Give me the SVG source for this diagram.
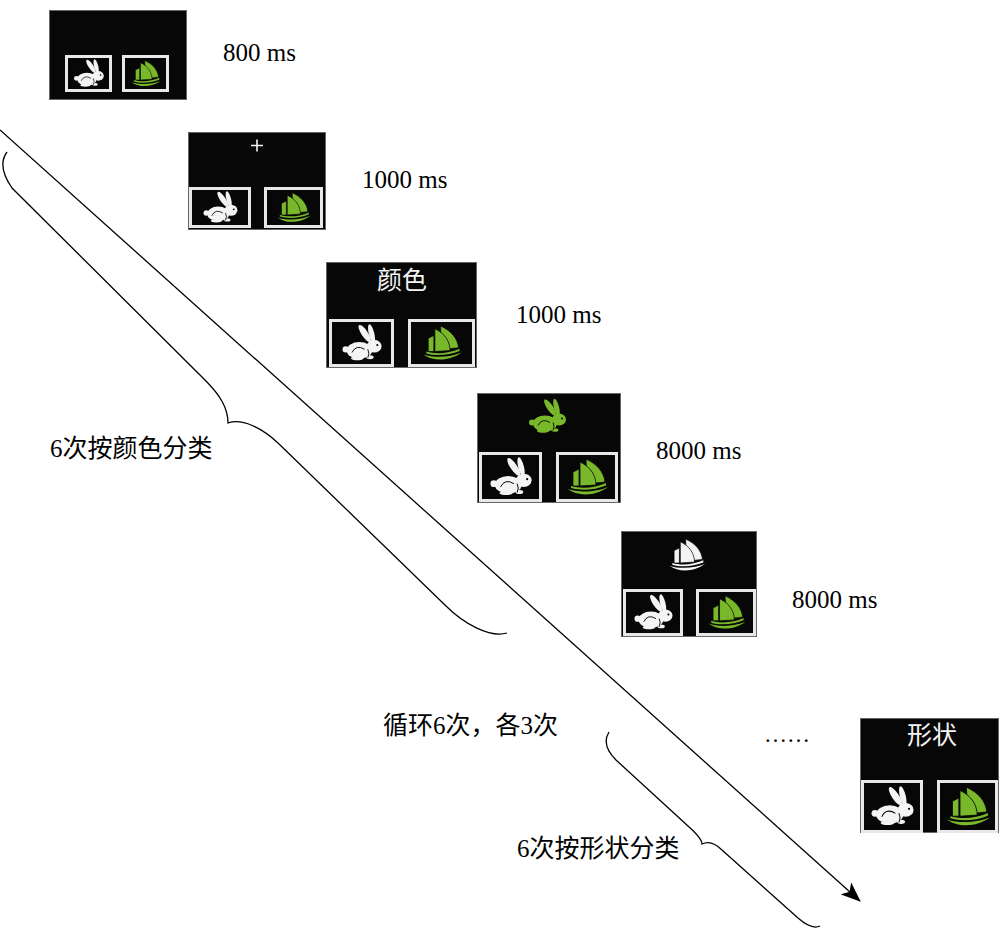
<svg xmlns="http://www.w3.org/2000/svg" xmlns:xlink="http://www.w3.org/1999/xlink" width="1000" height="931" viewBox="0 0 1000 931">
<style>
.scr{fill:#070707;stroke:#666;stroke-width:1}
.frm{fill:#070707;stroke:#e8e8e8;stroke-width:3}
.lbl{font-family:"Liberation Serif","Noto Sans CJK SC",serif;font-size:25px;fill:#000}
.wl{font-family:"Liberation Serif","Noto Sans CJK SC",serif;font-size:25px;fill:#f4f4f4}
.ln{fill:none;stroke:#000;stroke-width:1.3}
.wh{fill:#f4f4f4}
.gr{fill:#78b82a}
.dt{fill:none;stroke:#070707;stroke-width:0.9}
.cr{stroke:#f4f4f4;stroke-width:1.6}
</style>
<defs>
<symbol id="rabbit" viewBox="0 0 44 36">
<ellipse cx="25" cy="9" rx="3" ry="9.5" transform="rotate(-34 25 9)"/>
<ellipse cx="31.5" cy="9" rx="2.6" ry="9" transform="rotate(-14 31.5 9)"/>
<ellipse cx="20" cy="25" rx="12" ry="8"/>
<ellipse cx="34" cy="21" rx="7" ry="6"/>
<circle cx="7" cy="24" r="3"/>
<ellipse cx="30" cy="31.5" rx="3.5" ry="1.8"/>
<ellipse cx="18" cy="32.5" rx="6" ry="1.8"/>
<circle cx="37" cy="20" r="1" fill="#070707"/>
<path class="dt" d="M13,27 Q17,19 25,24"/>
<path class="dt" d="M28,24 Q30,28 28,32"/>
</symbol>
<symbol id="boat" viewBox="0 0 44 40">
<path d="M21,2 L22,27 L40,25 C39,15 32,7 21,2 Z" stroke="#070707" stroke-width="0.8"/>
<path d="M15,5 L15,29 L31,28 C31,19 26,10 15,5 Z" stroke="#070707" stroke-width="0.8"/>
<path d="M8,15 L8,29 L14,29 L14,12 Z" stroke="#070707" stroke-width="0.8"/>
<path d="M6,29 C16,32 30,31 41,26 L41,28.5 C30,33 16,34 6,31 Z"/>
<path d="M3,32 C12,39 30,40 43,30 C32,35 14,36 3,32 Z"/>
</symbol>
<marker id="ah" viewBox="0 0 20 16" refX="19" refY="8" markerWidth="20" markerHeight="16" markerUnits="userSpaceOnUse" orient="auto">
<path d="M0,0 L20,8 L0,16 L5,8 Z" fill="#000"/>
</marker>
</defs>
<rect width="1000" height="931" fill="#fff"/>

<g id="connectors">
<line class="ln" x1="0" y1="130" x2="860" y2="901" marker-end="url(#ah)"/>
</g>

<g id="braces">
<path class="ln" d="M7,152 C1,160 1,172 12,188 L205,380 C220,395 228,408 228,423 C242,418 262,428 278,443 L446,606 C464,624 490,638 507,633"/>
<path class="ln" d="M609,732 C604,740 606,750 616,760 L688,826 C697,834 702,840 702,844 C708,841 714,842 722,850 L798,918 C806,925 814,929 820,926"/>
</g>

<g id="screen1">
<rect class="scr" x="49.5" y="10.5" width="137" height="89"/>
<rect class="frm" x="66.5" y="56.5" width="44" height="34"/>
<rect class="frm" x="123.5" y="56.5" width="44" height="34"/>
<use href="#rabbit" class="wh" x="70" y="59" width="37" height="29"/>
<use href="#boat" class="gr" x="127" y="59" width="37" height="29"/>
<text class="lbl" x="223" y="61">800 ms</text>
</g>

<g id="screen2">
<rect class="scr" x="188.5" y="132.5" width="137" height="97"/>
<path class="cr" d="M251,145.5 H263 M257,139.5 V151.5"/>
<rect class="frm" x="190.5" y="188.5" width="59" height="38"/>
<rect class="frm" x="265.5" y="188.5" width="56" height="38"/>
<use href="#rabbit" class="wh" x="195" y="191" width="50" height="33"/>
<use href="#boat" class="gr" x="269" y="191" width="48" height="33"/>
<text class="lbl" x="362" y="188">1000 ms</text>
</g>

<g id="screen3">
<rect class="scr" x="326.5" y="262.5" width="150" height="105"/>
<text class="wl" x="402" y="289" text-anchor="middle">颜色</text>
<rect class="frm" x="330.5" y="320.5" width="62" height="45"/>
<rect class="frm" x="409.5" y="320.5" width="64" height="45"/>
<use href="#rabbit" class="wh" x="335" y="324" width="53" height="38"/>
<use href="#boat" class="gr" x="414" y="324" width="55" height="38"/>
<text class="lbl" x="516" y="323">1000 ms</text>
</g>

<g id="screen4">
<rect class="scr" x="477.5" y="393.5" width="143" height="109"/>
<use href="#rabbit" class="gr" x="525" y="398" width="44" height="37"/>
<rect class="frm" x="480.5" y="453.5" width="60" height="47"/>
<rect class="frm" x="557.5" y="453.5" width="59" height="47"/>
<use href="#rabbit" class="wh" x="485" y="457" width="51" height="40"/>
<use href="#boat" class="gr" x="562" y="457" width="50" height="40"/>
<text class="lbl" x="656" y="459">8000 ms</text>
</g>

<g id="screen5">
<rect class="scr" x="621.5" y="531.5" width="135" height="105"/>
<use href="#boat" class="wh" x="667" y="537" width="39" height="36"/>
<rect class="frm" x="624.5" y="590.5" width="57" height="44"/>
<rect class="frm" x="697.5" y="590.5" width="57" height="44"/>
<use href="#rabbit" class="wh" x="629" y="594" width="48" height="37"/>
<use href="#boat" class="gr" x="702" y="594" width="48" height="37"/>
<text class="lbl" x="792" y="608">8000 ms</text>
</g>

<g id="screen6">
<rect class="scr" x="860.5" y="718.5" width="138" height="114"/>
<text class="wl" x="932" y="744" text-anchor="middle">形状</text>
<rect class="frm" x="862.5" y="781.5" width="59" height="50"/>
<rect class="frm" x="938.5" y="781.5" width="58" height="50"/>
<use href="#rabbit" class="wh" x="867" y="785" width="50" height="43"/>
<use href="#boat" class="gr" x="943" y="785" width="49" height="43"/>
</g>

<g id="labels">
<text class="lbl" x="50" y="457">6次按颜色分类</text>
<text class="lbl" x="383" y="734">循环6次，各3次</text>
<text class="lbl" x="517" y="857">6次按形状分类</text>
<text class="lbl" x="764" y="742" style="font-size:23px">……</text>
</g>
</svg>
